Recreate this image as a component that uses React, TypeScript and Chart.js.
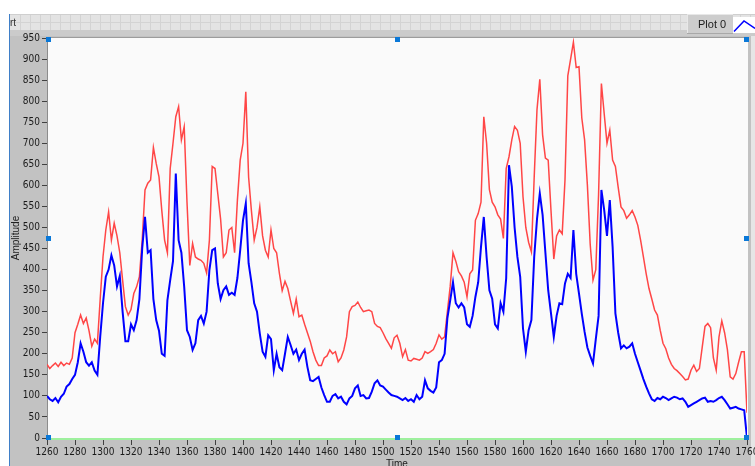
import React, { useEffect, useRef } from "react";
import { Chart, registerables } from "chart.js";
Chart.register(...registerables);

// Sample times (x axis, "Time")
const times: number[] = [
  1260, 1262, 1264, 1266, 1268, 1270, 1272, 1274, 1276, 1278,
  1280, 1282, 1284, 1286, 1288, 1290, 1292, 1294, 1296, 1298,
  1300, 1302, 1304, 1306, 1308, 1310, 1312, 1314, 1316, 1318,
  1320, 1322, 1324, 1326, 1328, 1330, 1332, 1334, 1336, 1338,
  1340, 1342, 1344, 1346, 1348, 1350, 1352, 1354, 1356, 1358,
  1360, 1362, 1364, 1366, 1368, 1370, 1372, 1374, 1376, 1378,
  1380, 1382, 1384, 1386, 1388, 1390, 1392, 1394, 1396, 1398,
  1400, 1402, 1404, 1406, 1408, 1410, 1412, 1414, 1416, 1418,
  1420, 1422, 1424, 1426, 1428, 1430, 1432, 1434, 1436, 1438,
  1440, 1442, 1444, 1446, 1448, 1450, 1452, 1454, 1456, 1458,
  1460, 1462, 1464, 1466, 1468, 1470, 1472, 1474, 1476, 1478,
  1480, 1482, 1484, 1486, 1488, 1490, 1492, 1494, 1496, 1498,
  1500, 1502, 1504, 1506, 1508, 1510, 1512, 1514, 1516, 1518,
  1520, 1522, 1524, 1526, 1528, 1530, 1532, 1534, 1536, 1538,
  1540, 1542, 1544, 1546, 1548, 1550, 1552, 1554, 1556, 1558,
  1560, 1562, 1564, 1566, 1568, 1570, 1572, 1574, 1576, 1578,
  1580, 1582, 1584, 1586, 1588, 1590, 1592, 1594, 1596, 1598,
  1600, 1602, 1604, 1606, 1608, 1610, 1612, 1614, 1616, 1618,
  1620, 1622, 1624, 1626, 1628, 1630, 1632, 1634, 1636, 1638,
  1640, 1642, 1644, 1646, 1648, 1650, 1652, 1654, 1656, 1658,
  1660, 1662, 1664, 1666, 1668, 1670, 1672, 1674, 1676, 1678,
  1680, 1682, 1684, 1686, 1688, 1690, 1692, 1694, 1696, 1698,
  1700, 1702, 1704, 1706, 1708, 1710, 1712, 1714, 1716, 1718,
  1720, 1722, 1724, 1726, 1728, 1730, 1732, 1734, 1736, 1738,
  1740, 1742, 1744, 1746, 1748, 1750, 1752, 1754, 1756, 1758,
  1760,
];

// Red trace (upper)
const redSeries: number[] = [
  175, 165, 172, 178, 170, 180, 172, 178, 175, 190,
  250, 270, 292, 272, 285, 255, 218, 235, 225, 330,
  430, 494, 537, 470, 510, 480, 440, 375, 312, 292,
  305, 343, 359, 383, 470, 589, 605, 613, 690, 652,
  620, 540, 470, 440, 640, 700, 763, 787, 708, 739,
  560, 410, 462, 430, 425, 422, 415, 392, 470, 645,
  640, 580, 520, 430, 440, 494, 500, 440, 565, 660,
  700, 822, 620, 540, 470, 500, 549, 480, 446, 430,
  494, 450, 440, 391, 350, 372, 355, 325, 296, 330,
  288, 292, 270, 250, 230, 205, 185, 172, 172, 190,
  195, 209, 200, 205, 181, 190, 209, 240, 300, 312,
  315, 323, 310, 300, 302, 304, 300, 272, 265, 262,
  250, 236, 225, 213, 238, 244, 225, 193, 210, 185,
  183, 189, 187, 185, 190, 205, 201, 205, 210, 225,
  245, 235, 240, 300, 360, 440, 420, 395, 385, 370,
  335, 390, 399, 517, 533, 560, 763, 700, 590, 560,
  549, 530, 520, 474, 640, 668, 708, 740, 731, 700,
  573, 500, 465, 442, 620, 780, 852, 720, 665, 660,
  540, 425, 480, 494, 485, 613, 860, 900, 940, 880,
  882, 760, 708, 600, 460, 375, 400, 580, 842, 770,
  700, 731, 660, 645, 595, 549, 540, 522, 530, 540,
  525, 505, 470, 430, 390, 355, 330, 304, 292, 256,
  225, 212, 190, 175, 165, 160, 153, 146, 138, 140,
  161, 173, 158, 165, 215, 265, 272, 262, 190, 161,
  240, 278, 250, 210, 145, 140, 153, 180, 205, 205,
  60,
];

// Blue trace (lower)
const blueSeries: number[] = [
  100, 92, 88, 95, 85, 98, 105, 122, 128, 140,
  150, 180, 225, 205, 180, 172, 180, 160, 150, 240,
  320, 383, 400, 434, 410, 360, 385, 300, 230, 230,
  270, 256, 280, 330, 450, 525, 440, 446, 330, 280,
  255, 200, 195, 327, 375, 420, 628, 470, 440, 359,
  256, 240, 209, 225, 280, 290, 272, 300, 399, 446,
  450, 367, 330, 351, 360, 340, 345, 340, 380, 446,
  517, 557, 415, 370, 320, 300, 248, 205, 193, 244,
  235, 161, 200, 168, 161, 200, 240, 221, 200, 210,
  185, 200, 210, 169, 137, 135, 140, 145, 120, 102,
  86, 86, 100, 104, 94, 98, 86, 80, 94, 100,
  118, 125, 100, 102, 94, 95, 110, 130, 137, 125,
  122, 115, 108, 102, 100, 98, 94, 90, 95, 88,
  92, 86, 102, 92, 98, 137, 118, 112, 108, 120,
  180, 185, 200, 285, 327, 370, 320, 310, 320, 310,
  270, 264, 290, 335, 370, 454, 525, 430, 351, 331,
  270, 260, 320, 300, 380, 648, 597, 500, 430, 383,
  260, 205, 256, 280, 430, 520, 581, 530, 440, 351,
  296, 240, 290, 320, 318, 367, 390, 380, 494, 390,
  343, 295, 252, 215, 195, 177, 235, 290, 589, 541,
  480, 565, 454, 296, 250, 213, 220, 213, 217, 225,
  200, 180, 160, 140, 122, 106, 92, 88, 95, 92,
  98, 95, 90, 94, 98, 96, 92, 94, 86, 74,
  78, 82, 86, 90, 94, 96, 86, 88, 86, 90,
  95, 98, 90, 80, 70, 72, 74, 70, 68, 66,
  0,
];

const xTickValues: number[] = [
  1260, 1280, 1300, 1320, 1340, 1360, 1380, 1400, 1420, 1440, 1460, 1480, 1500,
  1520, 1540, 1560, 1580, 1600, 1620, 1640, 1660, 1680, 1700, 1720, 1740, 1760,
];
const yTickValues: number[] = [
  0, 50, 100, 150, 200, 250, 300, 350, 400, 450, 500, 550, 600, 650, 700, 750,
  800, 850, 900, 950,
];

const xTitle = "Time";
const yTitle = "Amplitude";
const legendLabel = "Plot 0";
const cornerLabel = "rt";

const W = 755;
const H = 466;
const TICK_FONT = "'Liberation Sans Narrow', 'DejaVu Sans Condensed', 'Liberation Sans', sans-serif";
const LABEL_FONT = "'Liberation Sans', Arial, sans-serif";

const decorPlugin = {
  id: "labviewDecor",
  beforeDraw(chart: any) {
    const ctx = chart.ctx as CanvasRenderingContext2D;
    const { left, top, right, bottom } = chart.chartArea;
    ctx.save();
    ctx.fillStyle = "#ffffff";
    ctx.fillRect(0, 0, W, H);
    // toolbar strip
    ctx.fillStyle = "#e3e3e3";
    ctx.fillRect(10, 14, W - 10, 16);
    ctx.fillStyle = "#d3d3d3";
    for (let x = 20; x < W; x += 10) ctx.fillRect(x, 14, 1, 16);
    ctx.fillRect(10, 22, W - 10, 1);
    ctx.fillStyle = "#cfcfcf";
    ctx.fillRect(10, 14, W - 10, 1);
    // gray panel
    ctx.fillStyle = "#c2c2c2";
    ctx.fillRect(10, 30, W - 10, H - 30);
    ctx.fillStyle = "#cbcbcb";
    ctx.fillRect(10, 30, W - 10, 6);
    // right light strip
    ctx.fillStyle = "#e6e6e6";
    ctx.fillRect(751, 36, 4, H - 36);
    // plot top border
    ctx.fillStyle = "#9c9c9c";
    ctx.fillRect(left - 1, top - 1, right - left + 2, 1);
    // plot background
    ctx.fillStyle = "#fafafa";
    ctx.fillRect(left, top, right - left + 1, bottom - top);
    // left blue edge
    ctx.fillStyle = "#3f7fc8";
    ctx.fillRect(9, 14, 1, H - 14);
    // corner label
    ctx.fillStyle = "#303030";
    ctx.font = "10px " + LABEL_FONT;
    ctx.textBaseline = "alphabetic";
    ctx.textAlign = "left";
    ctx.fillText(cornerLabel, 10, 26);
    ctx.restore();
  },
  beforeDatasetsDraw(chart: any) {
    const ctx = chart.ctx as CanvasRenderingContext2D;
    const { left, right, bottom } = chart.chartArea;
    ctx.save();
    ctx.fillStyle = "#9ef09e";
    ctx.fillRect(left, bottom, right - left + 1, 2);
    ctx.restore();
  },
  afterDraw(chart: any) {
    const ctx = chart.ctx as CanvasRenderingContext2D;
    const { left, top, right, bottom } = chart.chartArea;
    ctx.save();
    // selection handles
    ctx.fillStyle = "#0a78d8";
    const mx = Math.round((left + right) / 2) - 2;
    const my = Math.round((top + bottom) / 2) - 2;
    const hx = [left - 1, mx, right - 3];
    const hy = [top - 1, my, bottom - 3];
    for (const x of hx) {
      for (const y of hy) {
        if (x === mx && y === my) continue;
        ctx.fillRect(x, y, 5, 5);
      }
    }
    // axis titles
    ctx.fillStyle = "#202020";
    ctx.font = "10px " + LABEL_FONT;
    ctx.textAlign = "center";
    ctx.textBaseline = "top";
    ctx.fillText(xTitle, (left + right) / 2, 459);
    ctx.save();
    ctx.translate(16, (top + bottom) / 2);
    ctx.rotate(-Math.PI / 2);
    ctx.textBaseline = "middle";
    ctx.fillText(yTitle, 0, 0);
    ctx.restore();
    // legend box
    ctx.fillStyle = "#cdcdcd";
    ctx.fillRect(687, 14, 46, 20);
    ctx.fillStyle = "#e8e8e8";
    ctx.fillRect(687, 14, 1, 20);
    ctx.fillRect(687, 14, 46, 1);
    ctx.fillStyle = "#a8a8a8";
    ctx.fillRect(687, 33, 46, 1);
    ctx.fillStyle = "#202020";
    ctx.font = "11px " + LABEL_FONT;
    ctx.textAlign = "left";
    ctx.textBaseline = "middle";
    ctx.fillText(legendLabel, 698, 25);
    ctx.fillStyle = "#ffffff";
    ctx.fillRect(733, 17, 22, 16);
    ctx.strokeStyle = "#0000ff";
    ctx.lineWidth = 1.5;
    ctx.beginPath();
    ctx.moveTo(734, 31.5);
    ctx.lineTo(744, 21);
    ctx.lineTo(755, 28.5);
    ctx.stroke();
    ctx.restore();
  },
};

export default function App() {
  const canvasRef = useRef<HTMLCanvasElement | null>(null);

  useEffect(() => {
    const canvas = canvasRef.current;
    if (!canvas) return;
    const bluePts = times.map((t, i) => ({ x: t, y: blueSeries[i] }));
    const redPts = times.map((t, i) => ({ x: t, y: redSeries[i] }));
    const chart = new Chart(canvas, {
      type: "line",
      data: {
        datasets: [
          {
            label: "blue",
            data: bluePts,
            borderColor: "#0000ff",
            borderWidth: 2,
            pointRadius: 0,
            tension: 0,
            fill: false,
          },
          {
            label: "red",
            data: redPts,
            borderColor: "#ff4646",
            borderWidth: 1.5,
            pointRadius: 0,
            tension: 0,
            fill: false,
          },
        ],
      },
      options: {
        responsive: false,
        animation: false,
        devicePixelRatio: 1,
        events: [],
        layout: { padding: { left: 10, top: 38, right: 8, bottom: 0 } },
        plugins: { legend: { display: false }, tooltip: { enabled: false } },
        scales: {
          x: {
            type: "linear",
            min: xTickValues[0],
            max: xTickValues[xTickValues.length - 1],
            afterBuildTicks: (s: any) => {
              s.ticks = xTickValues.map((v) => ({ value: v }));
            },
            afterFit: (s: any) => {
              s.height = 28;
              s.paddingLeft = 0;
              s.paddingRight = 0;
            },
            ticks: {
              autoSkip: false,
              maxRotation: 0,
              minRotation: 0,
              padding: 1,
              color: "#1a1a1a",
              font: { family: TICK_FONT, size: 10 },
              callback: (v: any) => String(v),
            },
            grid: {
              drawOnChartArea: false,
              drawTicks: true,
              tickLength: 7,
              color: "#404040",
            },
            border: { display: false },
          },
          y: {
            type: "linear",
            min: yTickValues[0],
            max: yTickValues[yTickValues.length - 1],
            afterBuildTicks: (s: any) => {
              s.ticks = yTickValues.map((v) => ({ value: v }));
            },
            afterFit: (s: any) => {
              s.width = 37;
              s.paddingTop = 0;
              s.paddingBottom = 0;
            },
            ticks: {
              autoSkip: false,
              padding: 2,
              color: "#1a1a1a",
              font: { family: TICK_FONT, size: 10 },
              callback: (v: any) => String(v),
            },
            grid: {
              drawOnChartArea: false,
              drawTicks: true,
              tickLength: 5,
              color: "#404040",
            },
            border: { display: true, color: "#8c8c8c", width: 1 },
          },
        },
      },
      plugins: [decorPlugin],
    } as any);
    return () => chart.destroy();
  }, []);

  return (
    <div style={{ position: "fixed", left: 0, top: 0, width: W, height: H, background: "#ffffff" }}>
      <canvas ref={canvasRef} width={W} height={H} style={{ display: "block", width: W, height: H }} />
    </div>
  );
}
